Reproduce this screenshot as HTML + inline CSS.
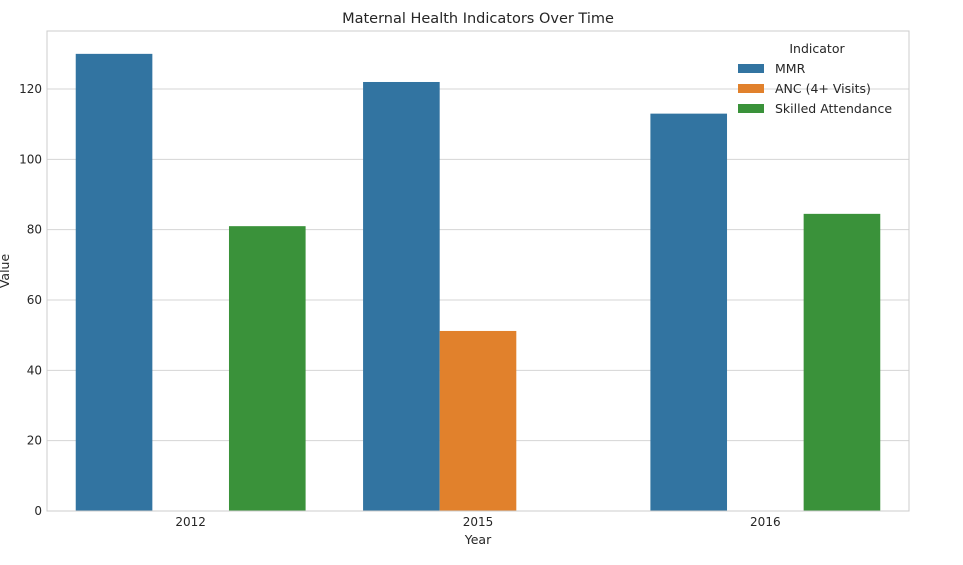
<!DOCTYPE html>
<html><head><meta charset="utf-8">
<style>
html,body{margin:0;padding:0;background:#fff;}
svg text{font-family:"DejaVu Sans","Liberation Sans",sans-serif;fill:#262626;}
</style></head>
<body>
<svg id="chart" width="963" height="560" viewBox="0 0 963 560" xmlns="http://www.w3.org/2000/svg">
<text x="478" y="23" text-anchor="middle" font-size="14.5">Maternal Health Indicators Over Time</text>
<g id="grid"></g>
<g id="bars"></g>
<rect x="47" y="31" width="862" height="480" fill="none" stroke="#cccccc" stroke-width="1"/>
<g id="ticks"></g>
<text x="478" y="544" text-anchor="middle" font-size="12.5">Year</text>
<text transform="translate(9,271) rotate(-90)" text-anchor="middle" font-size="12.5">Value</text>
<g id="legend"></g>
</svg>
<script>
const categories = ["2012", "2015", "2016"];
const seriesNames = ["MMR", "ANC (4+ Visits)", "Skilled Attendance"];
const mmrValues = [130, 122, 113];
const ancValues = [null, 51.2, null];
const skilledValues = [81, null, 84.5];
const yTicks = [0, 20, 40, 60, 80, 100, 120];

const colors = ["#3274a1", "#e1812c", "#3a923a"];
const series = [mmrValues, ancValues, skilledValues];
const NS = "http://www.w3.org/2000/svg";
const plotLeft = 47, plotRight = 909, plotTop = 31, plotBottom = 511, yMax = 136.5;
const band = (plotRight - plotLeft) / categories.length;
const barW = band * 0.8 / series.length;
function yScale(v){ return plotBottom - v / yMax * (plotBottom - plotTop); }
function xBand(i){ return plotLeft + band * i + band * 0.1; }
function mk(tag, attrs, parent){ const e = document.createElementNS(NS, tag); for (const k in attrs) e.setAttribute(k, attrs[k]); parent.appendChild(e); return e; }

const grid = document.getElementById("grid");
const ticks = document.getElementById("ticks");
yTicks.forEach(t => {
  const l = mk("line", {x1:plotLeft, x2:plotRight, y1:yScale(t), y2:yScale(t), stroke:"#d5d5d5", "stroke-width":1}, grid);
  
  
  const tx = mk("text", {x:plotLeft-5, y:yScale(t)+4, "text-anchor":"end", "font-size":"12"}, ticks);
  tx.textContent = t;
  
  
});
categories.forEach((c, i) => {
  const tx = mk("text", {x:plotLeft + band*(i+0.5), y:plotBottom+15, "text-anchor":"middle", "font-size":"12"}, ticks);
  tx.textContent = c;
  
  
});
const bars = document.getElementById("bars");
series.forEach((vals, s) => {
  vals.forEach((v, i) => {
    if (v === null) return;
    const r = mk("rect", {x:xBand(i) + s*barW, y:yScale(v), width:barW, height:plotBottom - yScale(v), fill:colors[s]}, bars);
    
    
  });
});
const lg = document.getElementById("legend");
const lt = mk("text", {x:817, y:53, "text-anchor":"middle", "font-size":"12.5"}, lg);
lt.textContent = "Indicator";


seriesNames.forEach((n, s) => {
  const yy = 68 + s*20;
  const r = mk("rect", {x:738, y:yy-4, width:26, height:9, fill:colors[s]}, lg);
  
  
  const t = mk("text", {x:775, y:yy+5, "font-size":"12.5"}, lg);
  t.textContent = n;
  
  
});
</script>
</body></html>
